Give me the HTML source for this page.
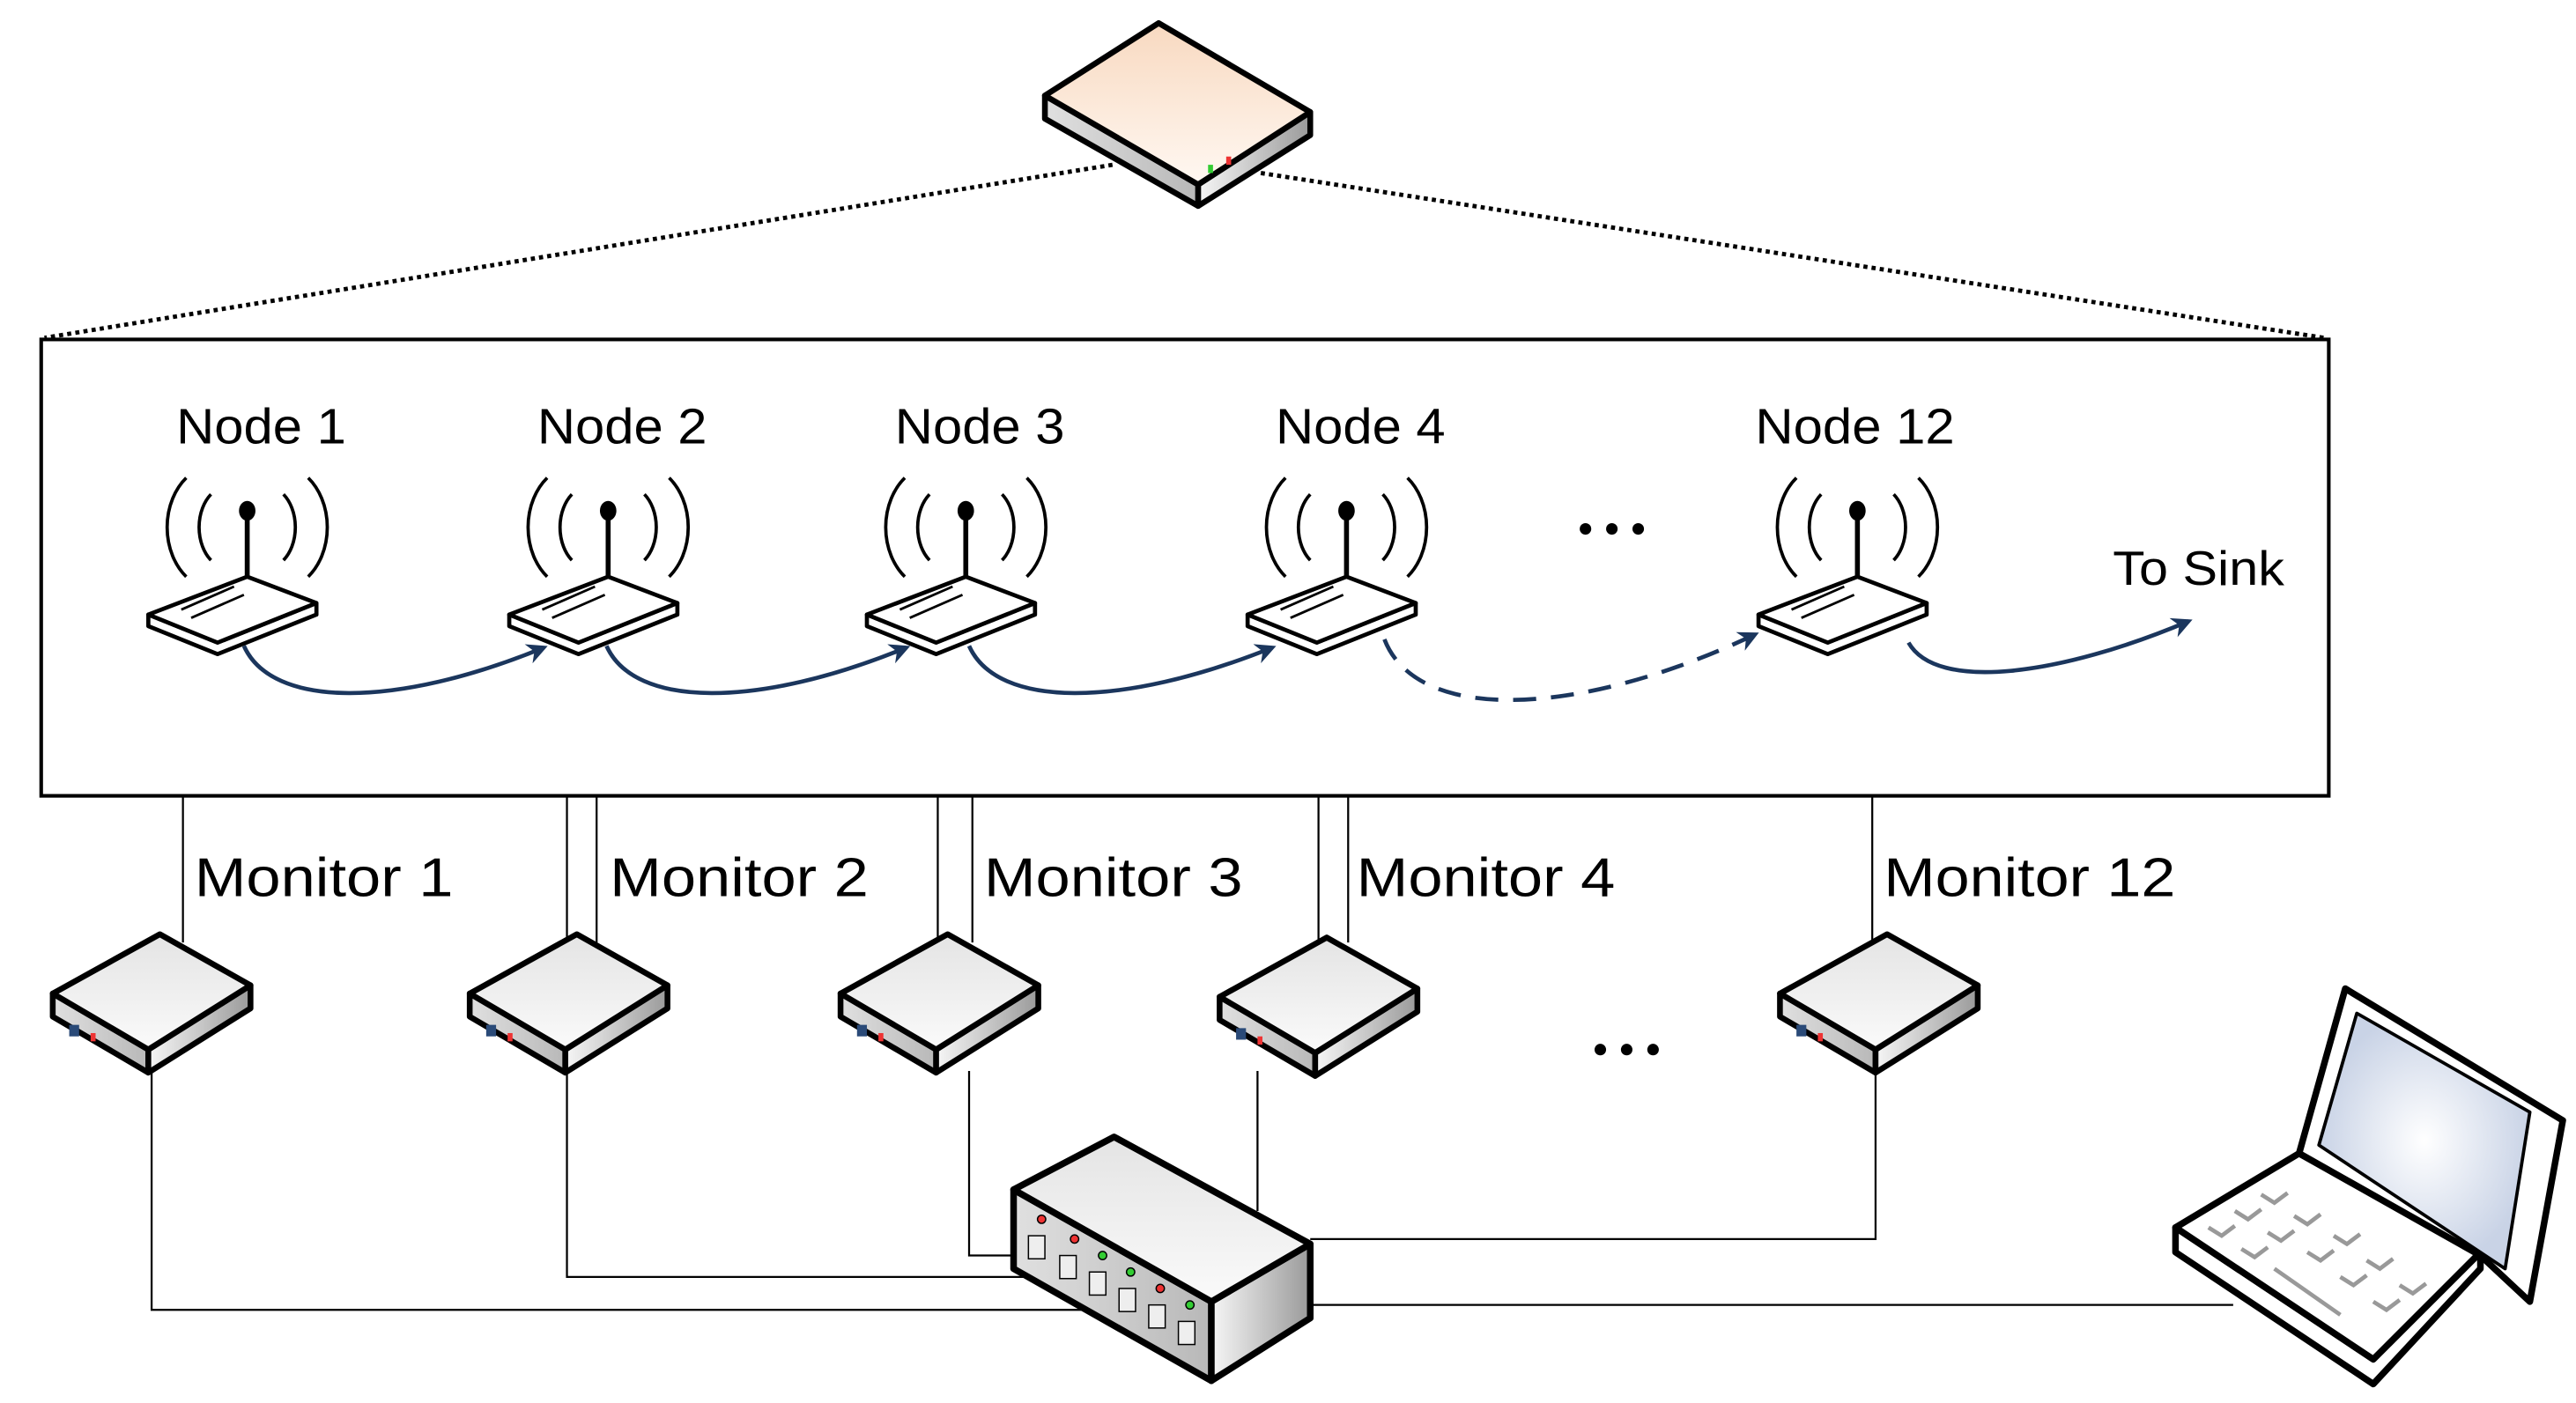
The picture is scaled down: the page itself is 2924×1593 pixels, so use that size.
<!DOCTYPE html>
<html><head><meta charset="utf-8"><style>
html,body{margin:0;padding:0;background:#fff;}
svg{display:block}
text{font-family:"Liberation Sans",sans-serif;fill:#000}
</style></head><body>
<svg width="2924" height="1593" viewBox="0 0 1563 851.5" xmlns="http://www.w3.org/2000/svg">
<defs>
<linearGradient id="peach" x1="0" y1="0" x2="0" y2="1"><stop offset="0" stop-color="#f8d9c0"/><stop offset="1" stop-color="#fff8f2"/></linearGradient>
<linearGradient id="gr" x1="0" y1="0" x2="1" y2="0"><stop offset="0" stop-color="#f6f6f6"/><stop offset="1" stop-color="#9a9a9a"/></linearGradient>
<linearGradient id="gr2" x1="0" y1="0" x2="1" y2="0"><stop offset="0" stop-color="#e0e0e0"/><stop offset="1" stop-color="#b8b8b8"/></linearGradient>
<linearGradient id="top" x1="0" y1="0" x2="0" y2="1"><stop offset="0" stop-color="#e4e4e4"/><stop offset="1" stop-color="#fafafa"/></linearGradient>
<radialGradient id="scr"><stop offset="0" stop-color="#ffffff"/><stop offset="1" stop-color="#c9d3e6"/></radialGradient>
<marker id="ah" viewBox="0 0 10 10" refX="8" refY="5" markerWidth="5" markerHeight="5" orient="auto"><path d="M0,0 L10,5 L0,10 L3,5 z" fill="#1b365d"/></marker>
<g id="mon" stroke="#000" stroke-width="3.5" stroke-linejoin="round">
<polygon points="-65,36 -65,50 -7,84 -7,70" fill="url(#gr2)"/>
<polygon points="-7,70 55,31 55,45 -7,84" fill="url(#gr)"/>
<polygon points="-65,36 0,0 55,31 -7,70" fill="url(#top)"/>
<rect x="-55" y="55" width="6" height="7" fill="#2a4a78" stroke="none"/>
<rect x="-42" y="60" width="3" height="5" fill="#e33" stroke="none"/>
</g>
<g id="nd">
<path d="M-37,-90 a30,38 0 0 0 0,60 M37,-90 a30,38 0 0 1 0,60 M-22,-80 a18,25 0 0 0 0,40 M22,-80 a18,25 0 0 1 0,40" fill="none" stroke="#000" stroke-width="2"/>
<ellipse cx="0" cy="-70" rx="5" ry="6"/>
<line x1="0" y1="-70" x2="0" y2="-30" stroke="#000" stroke-width="3"/>
<g stroke="#000" stroke-width="2.5" stroke-linejoin="round">
<polygon points="-60,-7 -60,0 -18,17 42,-7 42,-14 -18,10" fill="#fff"/>
<polygon points="-60,-7 0,-30 42,-14 -18,10" fill="#fff"/>
</g>
<line x1="-40" y1="-10" x2="-8" y2="-24" stroke="#000" stroke-width="1.5"/>
<line x1="-34" y1="-5" x2="-2" y2="-19" stroke="#000" stroke-width="1.5"/>
</g>
<g id="dots"><circle cx="-16" cy="0" r="3.5"/><circle cx="0" cy="0" r="3.5"/><circle cx="16" cy="0" r="3.5"/></g>
</defs>

<!-- top router -->
<g stroke="#000" stroke-width="3.5" stroke-linejoin="round">
<polygon points="634,58 727,112 727,125 634,72" fill="url(#gr2)"/>
<polygon points="727,112 795,68 795,82 727,125" fill="url(#gr)"/>
<polygon points="634,58 703,14 795,68 727,112" fill="url(#peach)"/>
</g>
<rect x="733" y="100" width="3" height="5" fill="#3c3"/><rect x="744" y="95" width="3" height="5" fill="#e33"/>
<g stroke="#000" stroke-width="2.6" stroke-dasharray="2.5,2.5" fill="none">
<line x1="675" y1="100" x2="27" y2="205"/>
<line x1="765" y1="105" x2="1410" y2="205"/>
</g>
<rect x="25" y="206" width="1388" height="277" fill="none" stroke="#000" stroke-width="2.2"/>

<g font-size="30">
<text x="107" y="269" textLength="103" lengthAdjust="spacingAndGlyphs">Node 1</text>
<text x="326" y="269" textLength="103" lengthAdjust="spacingAndGlyphs">Node 2</text>
<text x="543" y="269" textLength="103" lengthAdjust="spacingAndGlyphs">Node 3</text>
<text x="774" y="269" textLength="103" lengthAdjust="spacingAndGlyphs">Node 4</text>
<text x="1065" y="269" textLength="121" lengthAdjust="spacingAndGlyphs">Node 12</text>
<text x="1282" y="355" font-size="29" textLength="104" lengthAdjust="spacingAndGlyphs">To Sink</text>
</g>
<use href="#dots" x="978" y="321"/>
<use href="#nd" x="150" y="380"/>
<use href="#nd" x="369" y="380"/>
<use href="#nd" x="586" y="380"/>
<use href="#nd" x="817" y="380"/>
<use href="#nd" x="1127" y="380"/>

<g fill="none" stroke="#1b365d" stroke-width="2.5" marker-end="url(#ah)">
<path d="M148,392 C165,430 240,430 330,393"/>
<path d="M368,392 C385,430 460,430 550,393"/>
<path d="M588,392 C605,430 680,430 772,393"/>
<path d="M840,388 C860,440 960,435 1065,385" stroke-dasharray="14,9"/>
<path d="M1158,390 C1175,420 1250,410 1328,377"/>
</g>

<!-- monitor lines -->
<g stroke="#000" stroke-width="1.2" fill="none">
<path d="M111,483 V572"/>
<path d="M344,483 V578 M362,483 V572"/>
<path d="M569,483 V578 M590,483 V572"/>
<path d="M800,483 V578 M818,483 V572"/>
<path d="M1136,483 V572"/>
<path d="M92,650 V795 H660"/>
<path d="M344,650 V775 H625"/>
<path d="M588,650 V762 H625"/>
<path d="M763,650 V735"/>
<path d="M1138,650 V752 H795"/>
<path d="M795,792 H1355"/>
</g>
<g font-size="33">
<text x="118" y="544" textLength="157" lengthAdjust="spacingAndGlyphs">Monitor 1</text>
<text x="370" y="544" textLength="157" lengthAdjust="spacingAndGlyphs">Monitor 2</text>
<text x="597" y="544" textLength="157" lengthAdjust="spacingAndGlyphs">Monitor 3</text>
<text x="823" y="544" textLength="157" lengthAdjust="spacingAndGlyphs">Monitor 4</text>
<text x="1143" y="544" textLength="177" lengthAdjust="spacingAndGlyphs">Monitor 12</text>
</g>
<use href="#dots" x="987" y="637"/>
<use href="#mon" x="97" y="567"/>
<use href="#mon" x="350" y="567"/>
<use href="#mon" x="575" y="567"/>
<use href="#mon" x="805" y="569"/>
<use href="#mon" x="1145" y="567"/>

<!-- switch -->
<g stroke="#000" stroke-width="4" stroke-linejoin="round">
<polygon points="615,722 735,790 735,838 615,770" fill="url(#gr2)"/>
<polygon points="735,790 795,755 795,800 735,838" fill="url(#gr)"/>
<polygon points="615,722 676,690 795,755 735,790" fill="url(#top)"/>
</g>
<g stroke="#000" stroke-width="0.8">
<circle cx="632" cy="740" r="2.5" fill="#e33"/><circle cx="652" cy="752" r="2.5" fill="#e33"/><circle cx="669" cy="762" r="2.5" fill="#3c3"/><circle cx="686" cy="772" r="2.5" fill="#3c3"/><circle cx="704" cy="782" r="2.5" fill="#e33"/><circle cx="722" cy="792" r="2.5" fill="#3c3"/>
<rect x="624" y="750" width="10" height="14" fill="#eee"/><rect x="643" y="762" width="10" height="14" fill="#eee"/><rect x="661" y="772" width="10" height="14" fill="#eee"/><rect x="679" y="782" width="10" height="14" fill="#eee"/><rect x="697" y="792" width="10" height="14" fill="#eee"/><rect x="715" y="802" width="10" height="14" fill="#eee"/>
</g>

<!-- laptop -->
<g stroke="#000" stroke-width="4" stroke-linejoin="round">
<polygon points="1320,745 1320,760 1440,840 1505,770 1505,760 1440,825" fill="#fff"/>
<polygon points="1320,745 1395,700 1505,760 1440,825" fill="#fff"/>
<polygon points="1395,700 1423,600 1555,680 1535,790 1505,762" fill="#fff"/>
<polygon points="1407,695 1430,615 1535,675 1520,770" fill="url(#scr)" stroke-width="2"/>
</g>
<g stroke="#999" stroke-width="2.5" fill="none">
<path d="M1340,745 l8,5 l8,-6 M1356,735 l8,5 l8,-6 M1372,725 l8,5 l8,-6 M1360,758 l8,5 l8,-6 M1376,748 l8,5 l8,-6 M1392,738 l8,5 l8,-6 M1400,760 l8,5 l8,-6 M1416,750 l8,5 l8,-6 M1420,775 l8,5 l8,-6 M1436,765 l8,5 l8,-6 M1440,790 l8,5 l8,-6 M1456,780 l8,5 l8,-6 M1380,770 l40,28"/>
</g>
</svg>
</body></html>
